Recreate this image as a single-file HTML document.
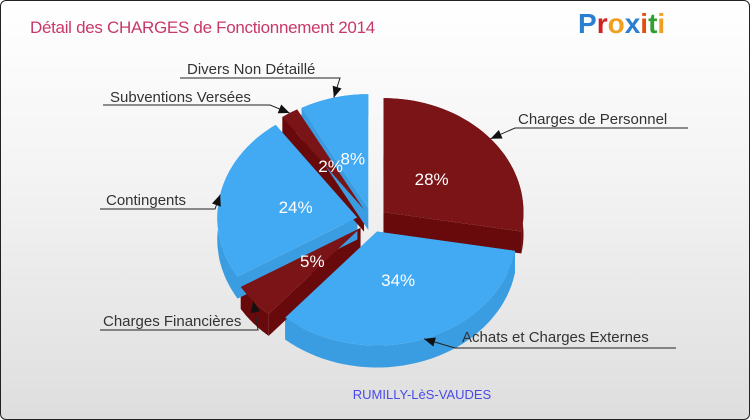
<!DOCTYPE html>
<html><head><meta charset="utf-8"><style>
html,body{margin:0;padding:0;}
body{width:750px;height:420px;overflow:hidden;font-family:"Liberation Sans",sans-serif;}
#frame{position:absolute;left:0;top:0;width:748px;height:418px;border:1px solid #222;border-radius:6px;background:linear-gradient(#ffffff,#f4f4f4 40%,#dedede);}
</style></head><body>
<div id="frame">
<svg id="chart" width="750" height="420" style="position:absolute;left:-1px;top:-1px">
<text x="30" y="33" font-size="17" fill="#c8386a" font-family="Liberation Sans" letter-spacing="-0.3">Détail des CHARGES de Fonctionnement 2014</text>
<g font-size="28" font-weight="bold" font-family="Liberation Sans">
<text x="578" y="33"><tspan fill="#2a7fd0">P</tspan><tspan fill="#d02020">r</tspan><tspan fill="#f0a020">o</tspan><tspan fill="#2a7fd0">x</tspan><tspan fill="#e05010">i</tspan><tspan fill="#30a030">t</tspan><tspan fill="#f0a020">i</tspan></text>
</g>
<text x="422" y="399" font-size="13" fill="#4a4ae8" text-anchor="middle">RUMILLY-LèS-VAUDES</text>
<g id="walls"></g><g id="tops"></g><g id="pcts"></g><g id="labels"></g>
</svg>
</div>
<script>
const categories=["Charges de Personnel","Achats et Charges Externes","Charges Financières","Contingents","Subventions Versées","Divers Non Détaillé"];
const values=[28,34,5,24,2,8];
const pctLabels=["28%","34%","5%","24%","2%","8%"];
const NS="http://www.w3.org/2000/svg";
const cx=372,cy=220,rx=140,ry=114,depth=22,expl=15;
const topCol=["#7a1416","#42aaf2","#7a1416","#42aaf2","#7a1416","#42aaf2"];
const sideCol=["#680a0c","#3a9de2","#680a0c","#3a9de2","#680a0c","#3a9de2"];
const labelPos=[[518,124,515,688,128,'r'],[462,342,455,676,348,'r'],[103,326,100,258,330,'l'],[106,205,100,215,209,'l'],[110,102,103,270,105,'l'],[187,74,180,340,78,'l']];
const total=values.reduce((a,b)=>a+b,0);
function pt(ox,oy,a,f,dz){return [ox+rx*f*Math.sin(a),oy-ry*f*Math.cos(a)+(dz||0)];}
function mk(tag,attrs,parent){const e=document.createElementNS(NS,tag);for(const k in attrs)e.setAttribute(k,attrs[k]);document.getElementById(parent).appendChild(e);return e;}
function arc(ox,oy,a0,a1,dz){let s="";const n=40;for(let i=0;i<=n;i++){const a=a0+(a1-a0)*i/n;const p=pt(ox,oy,a,1,dz);s+=(i?"L":"")+p[0].toFixed(1)+","+p[1].toFixed(1);}return s;}
let acc=0;
values.forEach((v,i)=>{
  const a0=acc/total*2*Math.PI;acc+=v;const a1=acc/total*2*Math.PI;const m=(a0+a1)/2;
  const ox=cx+expl*Math.sin(m),oy=cy-expl*Math.cos(m)*ry/rx;
  const w=mk("path",{d:"M"+ox+","+oy+"L"+ox+","+(oy+depth)+"L"+arc(ox,oy,a0,a0,depth)+"L"+arc(ox,oy,a0,a0)+"Z",fill:sideCol[i]},"walls");
  
  
  const w2=mk("path",{d:"M"+ox+","+oy+"L"+ox+","+(oy+depth)+"L"+arc(ox,oy,a1,a1,depth)+"L"+arc(ox,oy,a1,a1)+"Z",fill:sideCol[i]},"walls");
  
  
  const ob=arc(ox,oy,a0,a1);
  let back="";const n=40;for(let k=n;k>=0;k--){const a=a0+(a1-a0)*k/n;const p=pt(ox,oy,a,1,depth);back+="L"+p[0].toFixed(1)+","+p[1].toFixed(1);}
  const ow=mk("path",{d:"M"+ob+back+"Z",fill:sideCol[i]},"walls");
  
  
  const t=mk("path",{d:"M"+ox+","+oy+"L"+arc(ox,oy,a0,a1)+"Z",fill:topCol[i]},"tops");
  
  
  const lp=pt(ox,oy,m,0.45);
  const tx=mk("text",{x:lp[0],y:lp[1]+6,"text-anchor":"middle","font-size":"17",fill:"#ffffff"},"pcts");
  tx.textContent=pctLabels[i];
  
  
  const L=labelPos[i];const tip=pt(ox,oy,m,1.0);
  const lt=mk("text",{x:L[0],y:L[1],"font-size":"15",fill:"#333"},"labels");
  lt.textContent=categories[i];
  
  
  const end=L[5]=='r'?L[2]:L[3];const startX=L[5]=='r'?L[3]:L[2];
  const ln=mk("polyline",{points:startX+","+L[4]+" "+end+","+L[4]+" "+tip[0].toFixed(1)+","+tip[1].toFixed(1),fill:"none",stroke:"#222","stroke-width":"1"},"labels");
  
  
  const ang=Math.atan2(tip[1]-L[4],tip[0]-end);const s=12;
  const hx=tip[0],hy=tip[1];
  const b1=[hx-s*Math.cos(ang-0.4),hy-s*Math.sin(ang-0.4)],b2=[hx-s*Math.cos(ang+0.4),hy-s*Math.sin(ang+0.4)];
  const ah=mk("polygon",{points:hx+","+hy+" "+b1.join(",")+" "+b2.join(","),fill:"#111"},"labels");
  
  
});
</script>
</body></html>
